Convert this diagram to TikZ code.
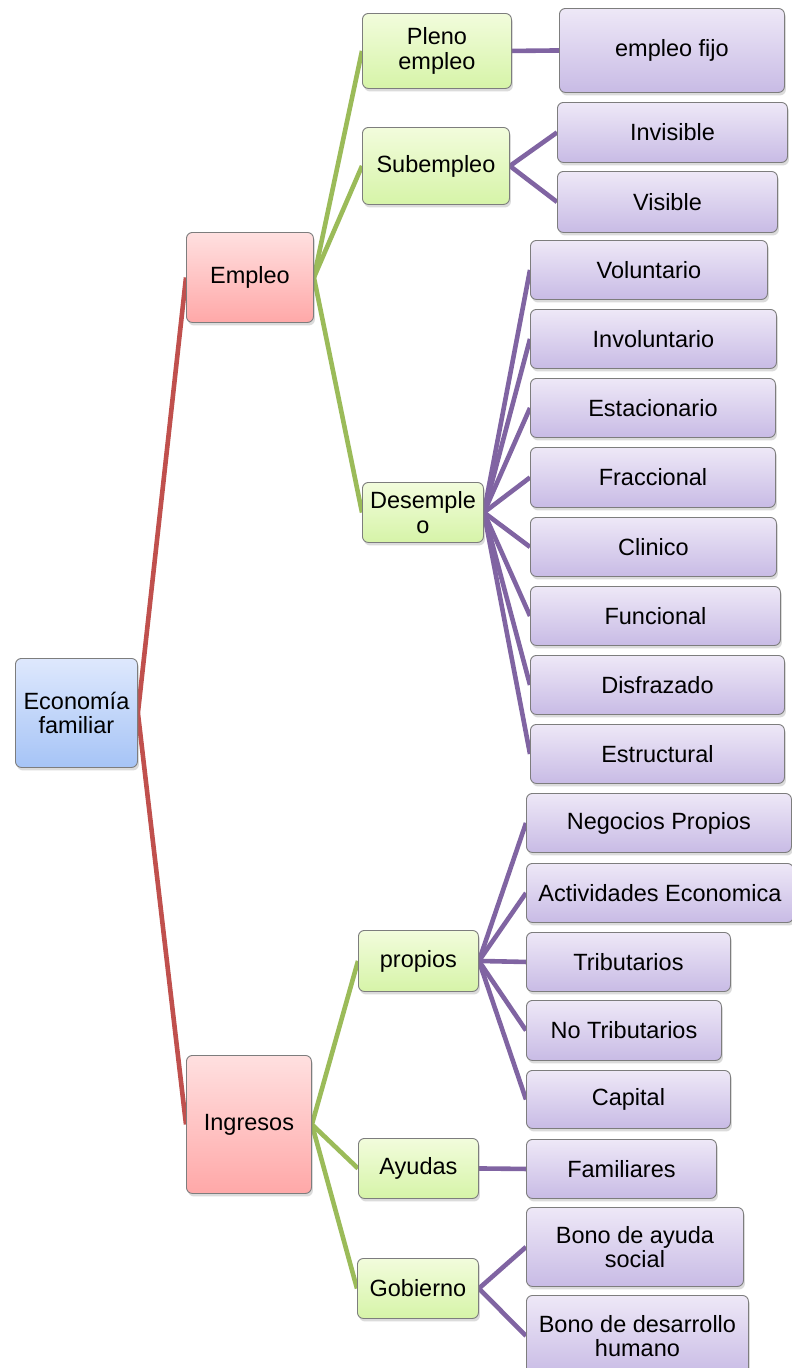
\documentclass[tikz,border=0pt]{standalone}
\usepackage{fontspec}
\setmainfont{Liberation Sans}
\usetikzlibrary{shadows,backgrounds}
\definecolor{blueT}{RGB}{222,232,253}
\definecolor{blueB}{RGB}{166,196,246}
\definecolor{pinkT}{RGB}{255,224,224}
\definecolor{pinkB}{RGB}{255,168,168}
\definecolor{greenT}{RGB}{242,252,220}
\definecolor{greenB}{RGB}{214,244,168}
\definecolor{purpT}{RGB}{238,232,247}
\definecolor{purpB}{RGB}{200,187,229}
\definecolor{redL}{RGB}{192,80,77}
\definecolor{greenL}{RGB}{155,187,89}
\definecolor{purpL}{RGB}{128,100,162}
\definecolor{edge}{RGB}{125,125,125}
\tikzset{
  basebox/.style={draw=edge, line width=0.9pt, rounded corners=6pt, inner sep=0pt,
    align=center, text=black, font=\fontsize{23.5}{24.5}\selectfont,
    drop shadow={opacity=0.28, shadow xshift=1.5pt, shadow yshift=-3pt}},
  bluebox/.style={basebox, top color=blueT, bottom color=blueB},
  pinkbox/.style={basebox, top color=pinkT, bottom color=pinkB},
  greenbox/.style={basebox, top color=greenT, bottom color=greenB},
  purpbox/.style={basebox, top color=purpT, bottom color=purpB},
  redline/.style={draw=redL, line width=4.6pt},
  greenline/.style={draw=greenL, line width=4.6pt},
  purpline/.style={draw=purpL, line width=4.6pt},
}
\newcommand\mybox[7]{\node[#1, anchor=north west, minimum width={(#5-#3)*1pt}, minimum height={(#6-#4)*1pt}] (#2) at (#3,#4) {#7};}
\begin{document}
\begin{tikzpicture}[x=1pt,y=-1pt]
\useasboundingbox (0,0) rectangle (792,1368);
\mybox{bluebox}{eco}{15}{658}{137}{767}{Economía\\familiar}
\mybox{pinkbox}{empleo}{186}{232}{313}{322}{Empleo}
\mybox{pinkbox}{ingresos}{186}{1055}{311}{1193}{Ingresos}
\mybox{greenbox}{pleno}{362}{13}{511}{88}{Pleno\\empleo}
\mybox{greenbox}{sub}{362}{127}{509}{204}{Subempleo}
\mybox{greenbox}{desem}{362}{482}{483}{542}{Desemple\\o}
\mybox{greenbox}{propios}{358}{930}{478}{991}{propios}
\mybox{greenbox}{ayudas}{358}{1138}{478}{1198}{Ayudas}
\mybox{greenbox}{gob}{357}{1258}{478}{1318}{Gobierno}
\mybox{purpbox}{fijo}{559}{8}{784}{92}{empleo fijo}
\mybox{purpbox}{invis}{557}{102}{787}{162}{Invisible}
\mybox{purpbox}{vis}{557}{171}{777}{232}{Visible}
\mybox{purpbox}{vol}{530}{240}{767}{299}{Voluntario}
\mybox{purpbox}{invol}{530}{309}{776}{368}{Involuntario}
\mybox{purpbox}{estac}{530}{378}{775}{437}{Estacionario}
\mybox{purpbox}{fracc}{530}{447}{775}{507}{Fraccional}
\mybox{purpbox}{clin}{530}{517}{776}{576}{Clinico}
\mybox{purpbox}{func}{530}{586}{780}{645}{Funcional}
\mybox{purpbox}{disf}{530}{655}{784}{714}{Disfrazado}
\mybox{purpbox}{estr}{530}{724}{784}{783}{Estructural}
\mybox{purpbox}{neg}{526}{793}{791}{852}{Negocios Propios}
\mybox{purpbox}{act}{526}{863}{793}{922}{Actividades Economica}
\mybox{purpbox}{trib}{526}{932}{730}{991}{Tributarios}
\mybox{purpbox}{notrib}{526}{1000}{721}{1060}{No Tributarios}
\mybox{purpbox}{cap}{526}{1070}{730}{1128}{Capital}
\mybox{purpbox}{fam}{526}{1139}{716}{1198}{Familiares}
\mybox{purpbox}{bonoa}{526}{1207}{743}{1286}{Bono de ayuda\\social}
\mybox{purpbox}{bonob}{526}{1295}{748}{1376}{Bono de desarrollo\\humano}
\begin{pgfonlayer}{background}
\fill[white] (0,0) rectangle (792,1368);
\draw[redline] (eco.east) -- (empleo.west);
\draw[redline] (eco.east) -- (ingresos.west);
\foreach \c in {pleno,sub,desem} \draw[greenline] (empleo.east) -- (\c.west);
\foreach \c in {propios,ayudas,gob} \draw[greenline] (ingresos.east) -- (\c.west);
\draw[purpline] (pleno.east) -- (fijo.west);
\foreach \c in {invis,vis} \draw[purpline] (sub.east) -- (\c.west);
\foreach \c in {vol,invol,estac,fracc,clin,func,disf,estr} \draw[purpline] (desem.east) -- (\c.west);
\foreach \c in {neg,act,trib,notrib,cap} \draw[purpline] (propios.east) -- (\c.west);
\draw[purpline] (ayudas.east) -- (fam.west);
\foreach \c in {bonoa,bonob} \draw[purpline] (gob.east) -- (\c.west);
\end{pgfonlayer}
\end{tikzpicture}
\end{document}
